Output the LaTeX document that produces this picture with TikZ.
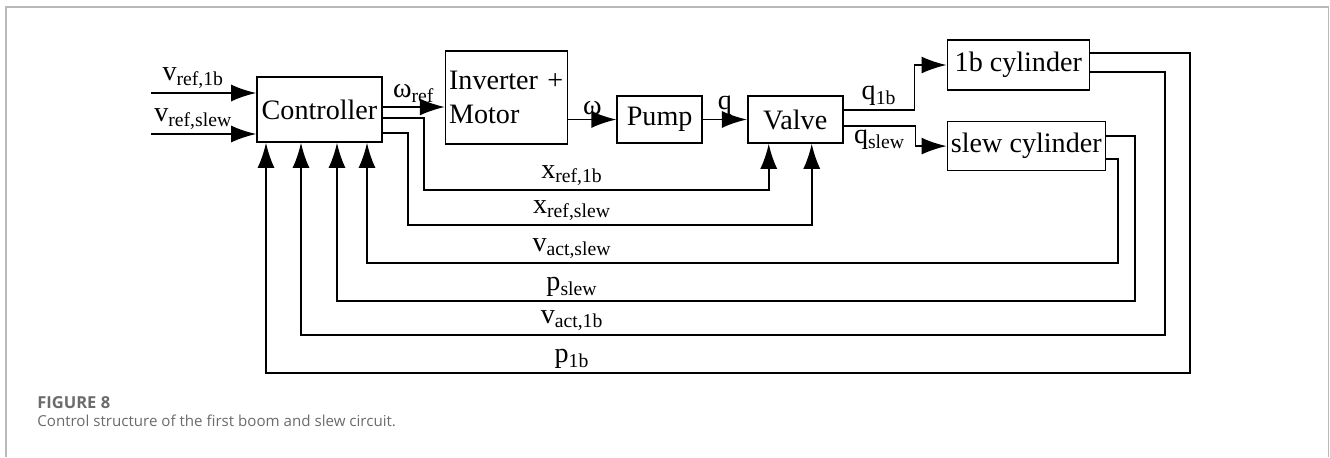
\documentclass[tikz,border=0pt]{standalone}
\usepackage{fontspec}
\setmainfont{Liberation Serif}
\newfontfamily\capfont{Open Sans}
\usetikzlibrary{arrows.meta, positioning, calc}

\begin{document}
\begin{tikzpicture}[
    block/.style={rectangle, draw, line width=0.9pt, inner sep=2pt, align=center,
                  font=\fontsize{16}{19.5}\selectfont},
    sig/.style={font=\fontsize{16}{19.5}\selectfont, inner sep=2pt},
    arrow/.style={-{Latex[length=0.5cm, width=0.34cm]}, line width=1.05pt},
    caption/.style={font=\capfont\fontsize{8.6}{10}\selectfont, text=black!58, inner sep=0pt, anchor=west},
]
    \useasboundingbox (-6.39,-6.95) rectangle (20.21,2.19);

    % --- forward path ---
    \node[block, minimum width=2.5cm, minimum height=1.3cm] (ctrl) at (0,0) {Controller};
    \node[block, minimum width=2.44cm, minimum height=1.86cm, align=left, text width=2.3cm,
          inner xsep=0.07cm] (inv) [right=1.24cm of ctrl, yshift=0.24cm] {Inverter +\\Motor};
    \node[block, minimum width=1.7cm, minimum height=0.94cm] (pump) [right=0.96cm of inv, yshift=-0.44cm] {Pump};
    \node[block, minimum width=1.9cm, minimum height=0.94cm] (valve) [right=0.88cm of pump] {Valve};
    \node[block, minimum width=2.84cm, minimum height=1.0cm] (cyl1b) [right=2.06cm of valve, yshift=1.09cm] {1b cylinder};
    \node[block, minimum width=3.16cm, minimum height=0.98cm] (cylslew)
          [below=0.6cm of cyl1b.south west, anchor=north west] {slew cylinder};

    % inputs
    \coordinate (vin1) at ($([yshift=0.33cm]ctrl.west)+(-2.1,0)$);
    \coordinate (vin2) at ($([yshift=-0.49cm]ctrl.west)+(-2.1,0)$);
    \draw[arrow] (vin1) -- node[sig, above, pos=0.4] {v\textsubscript{ref,1b}} (vin1 -| ctrl.west);
    \draw[arrow] (vin2) -- node[sig, above, pos=0.4] {v\textsubscript{ref,slew}} (vin2 -| ctrl.west);

    \coordinate (wref) at ([yshift=0.05cm]ctrl.east);
    \draw[arrow] (wref) -- node[sig, above] {ω\textsubscript{ref}} (wref -| inv.west);
    \draw[arrow] (inv.east |- pump) -- node[sig, above] {ω} (pump);
    \draw[arrow] (pump) -- node[sig, above] {q} (valve);

    % valve to cylinders
    \draw[arrow] ([yshift=0.19cm]valve.east) -- node[sig, above] {q\textsubscript{1b}} ++(1.42,0) |- (cyl1b);
    \draw[arrow] ([yshift=-0.13cm]valve.east) -- node[sig, below] {q\textsubscript{slew}} ++(1.44,0) |- (cylslew);

    % --- signal levels below the blocks ---
    \coordinate (lvA) at ($(ctrl.south)+(0,-0.94)$);
    \coordinate (lvB) at ($(ctrl.south)+(0,-1.64)$);
    \coordinate (lvC) at ($(ctrl.south)+(0,-2.40)$);
    \coordinate (lvD) at ($(ctrl.south)+(0,-3.16)$);
    \coordinate (lvE) at ($(ctrl.south)+(0,-3.84)$);
    \coordinate (lvF) at ($(ctrl.south)+(0,-4.60)$);
    \coordinate (lblcol) at ($(ctrl.center)+(5.05,0)$);

    % spool references
    \coordinate (va1) at ([xshift=-0.53cm]valve.south);
    \coordinate (va2) at ([xshift=0.33cm]valve.south);
    \draw[arrow] ([yshift=-0.17cm]ctrl.east) -- ++(0.82,0) |- (lvA -| va1) -- (va1);
    \draw[arrow] ([yshift=-0.47cm]ctrl.east) -- ++(0.5,0) |- (lvB -| va2) -- (va2);

    % feedback
    \coordinate (fb1) at ([xshift=-1.07cm]ctrl.south);
    \coordinate (fb2) at ([xshift=-0.37cm]ctrl.south);
    \coordinate (fb3) at ([xshift=0.35cm]ctrl.south);
    \coordinate (fb4) at ([xshift=0.95cm]ctrl.south);
    \draw[arrow] ([yshift=-0.25cm]cylslew.east) -- ++(0.24,0) |- (lvC -| fb4) -- (fb4);
    \draw[arrow] ([yshift=0.21cm]cylslew.east) -- ++(0.58,0) |- (lvD -| fb3) -- (fb3);
    \draw[arrow] ([yshift=-0.14cm]cyl1b.east) -- ++(1.5,0) |- (lvE -| fb2) -- (fb2);
    \draw[arrow] ([yshift=0.24cm]cyl1b.east) -- ++(2.0,0) |- (lvF -| fb1) -- (fb1);

    \node[sig, above] (lxr1) at (lblcol |- lvA) {x\textsubscript{ref,1b}};
    \node[sig, above] (lxr2) at (lblcol |- lvB) {x\textsubscript{ref,slew}};
    \node[sig, above] (lvas) at (lblcol |- lvC) {v\textsubscript{act,slew}};
    \node[sig, above] (lps)  at (lblcol |- lvD) {p\textsubscript{slew}};
    \node[sig, above] (lva1) at (lblcol |- lvE) {v\textsubscript{act,1b}};
    \node[sig, above] (lp1)  at (lblcol |- lvF) {p\textsubscript{1b}};

    % figure frame and caption
    \draw[gray!55, line width=0.8pt] (-6.27,-6.95) |- (20.18,2.05) -- (20.18,-6.95);
    \node[caption, font=\capfont\bfseries\fontsize{9.4}{10}\selectfont] (fignum) at (-5.65,-5.87) {FIGURE 8};
    \node[caption] (figcap) at (-5.65,-6.23) {Control structure of the first boom and slew circuit.};
\end{tikzpicture}
\end{document}
